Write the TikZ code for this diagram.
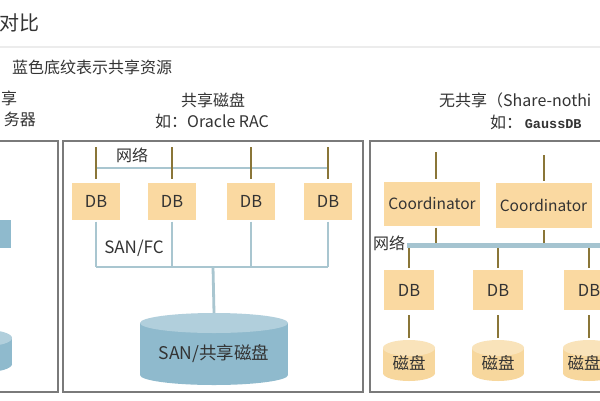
\documentclass[tikz,border=0pt]{standalone}
\usepackage{fontspec}
\setmainfont{Noto Sans CJK SC}
\newfontfamily\gaussmono{Liberation Mono}
\usetikzlibrary{positioning,calc}
\definecolor{textgray}{HTML}{333333}
\definecolor{panelgray}{HTML}{7A7A7A}
\definecolor{dbfill}{HTML}{FAD9A1}
\definecolor{netbrown}{HTML}{8A7638}
\definecolor{sanblue}{HTML}{A9C6D0}
\definecolor{diskblue}{HTML}{8FBACD}
\definecolor{diskorange}{HTML}{F7D79D}
\tikzset{
    every node/.style={text=textgray, inner sep=1pt},
    lbl/.style={font=\fontsize{16}{19}\selectfont},
    smalllbl/.style={font=\fontsize{16}{19}\selectfont},
    panel/.style={draw=panelgray, line width=1.2pt},
    dbbox/.style={fill=dbfill, minimum width=48pt, minimum height=37pt, font=\fontsize{16.5}{19}\selectfont},
    coordbox/.style={fill=dbfill, minimum width=96pt, minimum height=44pt, font=\fontsize{15.5}{18}\selectfont},
    brownline/.style={draw=netbrown, line width=2.6pt},
    sanline/.style={draw=sanblue, line width=2.8pt},
    netline/.style={draw=sanblue!85!diskblue, line width=5pt},
}
% disk: name, x, top, bottom, half width, y radius, colour
\newcommand{\drawdisk}[7]{%
  \fill[#7] (#2-#5,#3+#6) rectangle (#2+#5,#4-#6);
  \fill[#7] (#2,#4-#6) ellipse[x radius=#5, y radius=#6];
  \fill[#7!70!white] (#2,#3+#6) ellipse[x radius=#5, y radius=#6];
  \coordinate (#1) at (#2,#3);
}

\begin{document}
\begin{tikzpicture}[x=1pt,y=-1pt]
\useasboundingbox (0,0) rectangle (600,400);
\clip (0,0) rectangle (600,400);
\fill[white] (0,0) rectangle (600,400);

% header
\node[anchor=east, font=\fontsize{20}{24}\selectfont] (title) at (41,23) {对比};
\draw[gray!15, line width=1.5pt] (0,47) -- (600,47);
\node[anchor=west, lbl] (note) at (11,67) {蓝色底纹表示共享资源};

\node[anchor=west, lbl] (lefthead) at (0,98) {享};
\node[anchor=east, lbl] (leftsub) at (37,119) {务器};
\node[lbl] (midhead) at (213,100) {共享磁盘};
\node[lbl] (midsub) at (212,121) {如：Oracle RAC};
\node[anchor=west, lbl] (righthead) at (438,100) {无共享（Share-nothi};
\node[anchor=west] (rightsub) at (489,122) {\fontsize{16}{19}\selectfont 如：\,\gaussmono\bfseries\fontsize{13.5}{16}\selectfont GaussDB};

% panels
\draw[panel] (-10,141) rectangle (58,392);
\draw[panel] (63,141) rectangle (363,392);
\draw[panel] (370,141) rectangle (610,392);

%=========================
% left panel (cut off)
%=========================
\fill[diskblue] (-40,220) rectangle (11,248);
\drawdisk{leftdisk}{-14}{330}{372}{26}{8}{diskblue}

%=========================
% shared disk
%=========================
\foreach \i/\x in {1/96,2/172,3/251,4/328}{
  \node[dbbox] (mdb\i) at (\x,201) {DB};
  \coordinate (mtop\i) at (\x,147);
  \coordinate (msan\i) at (\x,267);
}
\draw[sanline, line width=2pt] (96,168) -- (328,168);
\foreach \i in {1,...,4}{
  \draw[brownline, shorten >=3pt] (mtop\i) -- (mdb\i.north);
}
\node[smalllbl] (mnet) at (132,155) {网络};

\drawdisk{sandisk}{214}{313}{385}{74}{10}{diskblue}
\node[font=\fontsize{17.5}{20}\selectfont] (sanlbl) at (214,354) {SAN/共享磁盘};

\foreach \i in {1,...,4}{
  \draw[sanline, shorten <=2pt] (mdb\i.south) -- (msan\i);
}
\draw[sanline] (msan1) -- (msan4);
\coordinate (msanmid) at (213,267);
\draw[sanline] (msanmid) -- (sandisk);
\node[font=\fontsize{17}{20}\selectfont] (sanfc) at (134,248) {SAN/FC};

%=========================
% share-nothing
%=========================
\node[coordbox] (coord1) at (432,203.5) {Coordinator};
\node[coordbox, minimum height=45pt] (coord2) at (543.5,205.5) {Coordinator};
\coordinate (ctop1) at (436,152);
\coordinate (ctop2) at (544,155);
\coordinate (cnet1) at (436,245);
\coordinate (cnet2) at (544,245);
\foreach \i in {1,2}{
  \draw[brownline, shorten >=2pt] (ctop\i) -- (ctop\i |- coord\i.north);
  \draw[brownline, shorten <=2pt] (cnet\i |- coord\i.south) -- (cnet\i);
}
\coordinate (netleft) at (407,245);
\coordinate (netright) at (610,245);
\draw[netline] (netleft) -- (netright);
\node[smalllbl] (rnet) at (389,243) {网络};

\foreach \i/\x/\t in {1/409/409,2/498/498,3/589/584}{
  \node[dbbox, minimum width=50pt, minimum height=40pt] (rdb\i) at (\x,290) {DB};
  \coordinate (rnet\i) at (\x,248);
  \drawdisk{rdisk\i}{\x}{340}{381}{26}{8}{diskorange}
  \node[font=\fontsize{16.5}{19}\selectfont] (rdisklbl\i) at (\t,363) {磁盘};
  \draw[brownline, shorten >=2pt] (rnet\i) -- (rdb\i.north);
  \draw[brownline, shorten <=5pt, shorten >=2pt] (rdb\i.south) -- (rdisk\i);
}

\end{tikzpicture}
\end{document}
